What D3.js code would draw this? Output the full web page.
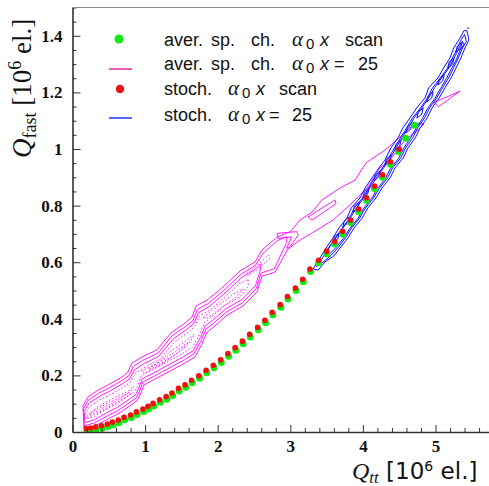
<!DOCTYPE html>
<html lang="en">
<head>
<meta charset="UTF-8">
<title>Q_fast vs Q_tt</title>
<script src="https://cdn.jsdelivr.net/npm/d3@7"></script>
<style>
  body { margin: 0; background: #fff; }
  svg { display: block; }
  .tick text { font-family: "Liberation Serif", serif; font-weight: bold; font-size: 17px; fill: #111; }
  .leg { font-family: "Liberation Sans", Arial, sans-serif; font-size: 18px; fill: #111; }
</style>
</head>
<body>
<script>
// scatter: stoch. alpha0 x scan (red)
const redX = [0.19,0.25,0.32,0.40,0.48,0.55,0.63,0.71,0.80,0.88,0.97,1.04,1.11,1.20,1.29,1.37,1.46,1.55,1.64,1.74,1.84,1.94,2.04,2.14,2.24,2.34,2.44,2.55,2.65,2.75,2.86,2.96,3.07,3.17,3.27,3.39,3.50,3.61,3.72,3.83,3.94,4.05,4.16,4.27,4.38,4.50];
const redY = [0.012,0.014,0.018,0.022,0.028,0.035,0.042,0.052,0.060,0.071,0.081,0.091,0.101,0.114,0.125,0.138,0.154,0.167,0.183,0.199,0.218,0.236,0.255,0.277,0.298,0.321,0.345,0.370,0.395,0.423,0.450,0.479,0.509,0.540,0.576,0.607,0.639,0.673,0.709,0.749,0.788,0.828,0.869,0.909,0.955,0.999];
// scatter: aver. sp. ch. alpha0 x scan (green)
const greenX = [0.20,0.26,0.33,0.41,0.49,0.56,0.64,0.72,0.81,0.89,0.98,1.05,1.12,1.21,1.30,1.38,1.47,1.56,1.65,1.75,1.85,1.95,2.05,2.15,2.25,2.35,2.45,2.56,2.66,2.76,2.87,2.97,3.08,3.18,3.28,3.39,3.50,3.61,3.72,3.83,3.94,4.05,4.16,4.27,4.38,4.49,4.59,4.71];
const greenY = [0.004,0.006,0.009,0.013,0.019,0.026,0.033,0.043,0.051,0.062,0.072,0.082,0.092,0.105,0.116,0.129,0.145,0.158,0.174,0.190,0.209,0.227,0.246,0.268,0.289,0.312,0.336,0.361,0.386,0.414,0.441,0.470,0.500,0.531,0.567,0.598,0.630,0.664,0.700,0.740,0.779,0.819,0.860,0.900,0.946,0.991,1.038,1.084];

// contours of aver. sp. ch. alpha0 x = 25 (magenta), [Qtt, Qfast]
const magentaSolid = [
  [[0.145,0.092],[0.213,0.124],[0.351,0.148],[0.489,0.166],[0.682,0.194],[0.764,0.212],[0.820,0.244],[0.957,0.265],[1.164,0.290],[1.274,0.325],[1.371,0.353],[1.550,0.385],[1.646,0.406],[1.701,0.445],[1.853,0.466],[2.059,0.509],[2.307,0.569],[2.514,0.601],[2.611,0.643],[2.817,0.689],[2.996,0.707],[3.134,0.749],[3.299,0.777],[3.437,0.820],[3.685,0.862],[3.891,0.890],[4.043,0.951],[4.304,0.996],[4.539,1.049],[4.718,1.092],[4.842,1.088],
   [4.759,1.067],[4.580,1.032],[4.373,0.961],[4.235,0.933],[4.056,0.862],[3.822,0.802],[3.588,0.749],[3.368,0.714],[3.134,0.678],[2.968,0.647],[2.790,0.565],[2.611,0.551],[2.541,0.495],[2.348,0.445],[2.128,0.413],[1.963,0.375],[1.853,0.353],[1.783,0.311],[1.687,0.265],[1.550,0.244],[1.371,0.219],[1.136,0.187],[0.985,0.166],[0.930,0.131],[0.888,0.110],[0.764,0.088],[0.627,0.064],[0.489,0.046],[0.310,0.021],[0.158,0.012]],
  [[0.15,0.082],[0.22,0.113],[0.36,0.137],[0.50,0.155],[0.69,0.183],[0.78,0.200],[0.84,0.232],[0.97,0.253],[1.18,0.279],[1.29,0.314],[1.38,0.342],[1.56,0.373],[1.66,0.394],[1.72,0.433],[1.87,0.454],[2.07,0.497],[2.32,0.557],[2.52,0.589],[2.62,0.630],[2.82,0.676],[2.95,0.690],
   [2.95,0.670],[2.78,0.577],[2.60,0.562],[2.53,0.506],[2.34,0.456],[2.12,0.424],[1.95,0.386],[1.84,0.364],[1.77,0.322],[1.67,0.276],[1.54,0.255],[1.36,0.230],[1.13,0.198],[0.97,0.177],[0.92,0.142],[0.88,0.121],[0.76,0.099],[0.62,0.075],[0.48,0.057],[0.30,0.032],[0.16,0.022]],
  [[0.16,0.072],[0.23,0.102],[0.37,0.126],[0.51,0.144],[0.70,0.172],[0.79,0.189],[0.86,0.221],[0.99,0.242],[1.19,0.268],[1.30,0.303],[1.40,0.331],[1.57,0.362],[1.67,0.383],[1.74,0.422],[1.88,0.443],[2.08,0.486],[2.33,0.546],[2.50,0.572],[2.60,0.595],
   [2.58,0.565],[2.52,0.517],[2.33,0.467],[2.11,0.435],[1.94,0.397],[1.83,0.375],[1.76,0.333],[1.66,0.287],[1.53,0.266],[1.35,0.241],[1.12,0.209],[0.96,0.188],[0.91,0.153],[0.87,0.132],[0.75,0.110],[0.61,0.086],[0.47,0.068],[0.30,0.043],[0.17,0.033]],
  [[4.979,1.166],[5.158,1.184],[5.337,1.205],[5.227,1.184],[5.039,1.149]],
  [[3.244,0.760],[3.616,0.820],[3.630,0.806],[3.299,0.749]],
  [[2.818,0.702],[3.088,0.708],[3.110,0.696],[2.996,0.655],[2.950,0.649],[3.019,0.690],[2.833,0.684]]
];
const magentaDotted = [
  [[0.17,0.062],[0.24,0.090],[0.38,0.114],[0.52,0.132],[0.71,0.160],[0.80,0.177],[0.87,0.209],[1.00,0.230],[1.20,0.256],[1.31,0.291],[1.41,0.319],[1.58,0.350],[1.68,0.371],[1.75,0.410],[1.89,0.431],[2.09,0.474],[2.30,0.525],[2.42,0.540],
   [2.42,0.515],[2.31,0.478],[2.10,0.447],[1.93,0.409],[1.82,0.387],[1.75,0.345],[1.65,0.299],[1.52,0.278],[1.34,0.253],[1.11,0.221],[0.95,0.200],[0.90,0.165],[0.86,0.144],[0.74,0.122],[0.60,0.098],[0.46,0.080],[0.30,0.055],[0.18,0.045]],
  [[0.19,0.055],[0.35,0.090],[0.55,0.118],[0.75,0.142],[0.84,0.160],[0.78,0.130],[0.58,0.100],[0.38,0.072],[0.19,0.050]],
  [[0.25,0.068],[0.45,0.097],[0.65,0.122],[0.78,0.140],[0.62,0.112],[0.42,0.085],[0.25,0.062]],
  [[0.95,0.215],[1.15,0.240],[1.35,0.285],[1.55,0.320],[1.68,0.345],[1.60,0.310],[1.40,0.270],[1.20,0.235],[1.00,0.208]],
  [[1.05,0.225],[1.25,0.255],[1.45,0.290],[1.60,0.318],[1.45,0.280],[1.25,0.247],[1.05,0.220]],
  [[1.80,0.405],[2.00,0.445],[2.20,0.485],[2.35,0.505],[2.25,0.475],[2.05,0.440],[1.85,0.400]],
  [[2.40,0.560],[2.55,0.590],[2.70,0.625],[2.72,0.615],[2.55,0.575],[2.42,0.552]]
];

// contours of stoch. alpha0 x = 25 (blue)
const blueContours = [
  [[3.313,0.576],[3.409,0.615],[3.492,0.650],[3.588,0.686],[3.670,0.721],[3.781,0.756],[3.840,0.792],[3.960,0.827],[4.030,0.862],[4.125,0.898],[4.220,0.933],[4.304,0.961],[4.385,1.004],[4.483,1.039],[4.550,1.074],[4.649,1.110],[4.740,1.145],[4.855,1.180],[4.905,1.216],[5.034,1.251],[5.110,1.286],[5.200,1.322],[5.250,1.357],[5.337,1.392],[5.392,1.418],[5.434,1.418],
   [5.460,1.385],[5.406,1.357],[5.350,1.322],[5.282,1.286],[5.215,1.251],[5.131,1.216],[5.050,1.180],[4.952,1.145],[4.885,1.110],[4.787,1.074],[4.720,1.039],[4.621,1.004],[4.555,0.968],[4.442,0.933],[4.375,0.898],[4.263,0.862],[4.180,0.827],[4.070,0.792],[3.990,0.756],[3.878,0.721],[3.795,0.686],[3.685,0.650],[3.600,0.622],[3.478,0.601],[3.382,0.572]],
  [[3.36,0.585],[3.443,0.615],[3.526,0.650],[3.622,0.686],[3.719,0.721],[3.815,0.756],[3.884,0.792],[3.994,0.827],[4.077,0.862],[4.159,0.898],[4.270,0.933],[4.338,0.961],[4.435,1.004],[4.517,1.039],[4.600,1.074],[4.683,1.110],[4.793,1.145],[4.889,1.180],[4.958,1.216],[5.068,1.251],[5.165,1.286],[5.234,1.322],[5.303,1.357],[5.350,1.385],[5.400,1.405],
   [5.425,1.380],[5.372,1.357],[5.315,1.322],[5.248,1.286],[5.180,1.251],[5.097,1.216],[5.015,1.180],[4.918,1.145],[4.850,1.110],[4.753,1.074],[4.685,1.039],[4.587,1.004],[4.520,0.968],[4.408,0.933],[4.340,0.898],[4.229,0.862],[4.145,0.827],[4.036,0.792],[3.955,0.756],[3.844,0.721],[3.760,0.686],[3.651,0.650],[3.565,0.625],[3.450,0.600]],
  [[3.48,0.630],[3.56,0.660],[3.65,0.695],[3.745,0.728],[3.84,0.762],[3.92,0.795],[4.02,0.830],[4.10,0.865],[4.19,0.900],[4.29,0.935],[4.37,0.965],[4.46,1.005],[4.54,1.040],[4.63,1.076],[4.71,1.112],[4.82,1.148],[4.91,1.182],[4.99,1.218],[5.09,1.253],[5.19,1.288],[5.26,1.324],[5.33,1.360],[5.37,1.380],
   [5.39,1.368],[5.34,1.350],[5.29,1.318],[5.22,1.284],[5.15,1.249],[5.07,1.214],[4.99,1.178],[4.89,1.143],[4.82,1.108],[4.73,1.072],[4.65,1.037],[4.56,1.002],[4.49,0.966],[4.38,0.931],[4.31,0.896],[4.20,0.860],[4.12,0.825],[4.01,0.790],[3.93,0.754],[3.82,0.719],[3.73,0.684],[3.63,0.652],[3.53,0.626]],
  [[3.586,0.668],[3.653,0.682],[3.674,0.704],[3.607,0.690]],
  [[3.723,0.724],[3.790,0.738],[3.811,0.760],[3.744,0.746]],
  [[3.861,0.777],[3.928,0.791],[3.949,0.813],[3.882,0.799]],
  [[3.999,0.827],[4.066,0.841],[4.087,0.863],[4.020,0.849]],
  [[4.151,0.887],[4.218,0.901],[4.239,0.923],[4.172,0.909]],
  [[4.302,0.943],[4.369,0.957],[4.390,0.979],[4.323,0.965]],
  [[4.439,0.996],[4.506,1.010],[4.527,1.032],[4.460,1.018]],
  [[4.591,1.056],[4.658,1.070],[4.679,1.092],[4.612,1.078]],
  [[4.743,1.109],[4.810,1.123],[4.831,1.145],[4.764,1.131]],
  [[4.880,1.166],[4.947,1.180],[4.968,1.202],[4.901,1.188]],
  [[5.032,1.226],[5.099,1.240],[5.120,1.262],[5.053,1.248]],
  [[5.169,1.286],[5.236,1.300],[5.257,1.322],[5.190,1.308]],
  [[5.280,1.342],[5.347,1.356],[5.368,1.378],[5.301,1.364]]
];
const blueDot = [5.448, 1.427];

const xTicks = [0, 1, 2, 3, 4, 5];
const yTicks = [0, 0.2, 0.4, 0.6, 0.8, 1, 1.2, 1.4];

const w = 489, h = 486;
const padLeft = 72.5, padBottom = 432, padTop = 7.5;

const x = d3.scaleLinear().domain([0, 5.8]).range([padLeft, padLeft + 5.8 * 72.6]);
const y = d3.scaleLinear().domain([0, 1.5]).range([padBottom, padTop]);

const svg = d3.select("body").append("svg")
  .attr("width", w).attr("height", h);

svg.append("rect").attr("width", w).attr("height", h).attr("fill", "#fff");

svg.append("clipPath").attr("id", "plotclip")
  .append("rect").attr("x", padLeft).attr("y", padTop)
  .attr("width", w - padLeft).attr("height", padBottom - padTop);

const plot = svg.append("g").attr("clip-path", "url(#plotclip)");

const line = d3.line().x(d => x(d[0])).y(d => y(d[1]));

// magenta contours
plot.selectAll(".msolid").data(magentaSolid).enter().append("path")
  .attr("class", "msolid")
  .attr("d", d => line(d) + "Z")
  .attr("fill", "none").attr("stroke", "#ff1cff").attr("stroke-width", 1);

plot.selectAll(".mdot").data(magentaDotted).enter().append("path")
  .attr("class", "mdot")
  .attr("d", d => line(d) + "Z")
  .attr("fill", "none").attr("stroke", "#ff1cff").attr("stroke-width", 1)
  .attr("stroke-dasharray", "1.5,2");

// blue contours
plot.selectAll(".blue").data(blueContours).enter().append("path")
  .attr("class", "blue")
  .attr("d", d => line(d) + "Z")
  .attr("fill", "none").attr("stroke", "#1010ff").attr("stroke-width", 1);

plot.append("circle").attr("cx", x(blueDot[0])).attr("cy", y(blueDot[1]))
  .attr("r", 0.8).attr("fill", "#1010ff");

// scatter points
plot.selectAll(".green").data(greenX).enter().append("circle")
  .attr("class", "green")
  .attr("cx", d => x(d)).attr("cy", (d, i) => y(greenY[i]))
  .attr("r", 3.5).attr("fill", "#12ea12");

plot.selectAll(".red").data(redX).enter().append("circle")
  .attr("class", "red")
  .attr("cx", d => x(d)).attr("cy", (d, i) => y(redY[i]))
  .attr("r", 2.8).attr("fill", "#f01010");

// axes
const fmt = d3.format("~g");
const xMinor = d3.range(0, 5.81, 0.2).filter(v => Math.abs(v - Math.round(v)) > 1e-6);
const yMinor = d3.range(0, 1.501, 0.05).filter(v => Math.abs(v * 5 - Math.round(v * 5)) > 1e-6);

svg.append("g").attr("transform", "translate(0," + padBottom + ")")
  .call(d3.axisBottom(x).tickValues(xMinor).tickSize(-4).tickSizeOuter(0).tickFormat(""))
  .call(g => g.select(".domain").remove())
  .call(g => g.selectAll("line").attr("stroke", "#333"));

svg.append("g").attr("id", "x-axis").attr("transform", "translate(0," + padBottom + ")")
  .call(d3.axisBottom(x).tickValues(xTicks).tickSize(-7).tickSizeOuter(0).tickPadding(8).tickFormat(fmt))
  .call(g => g.select(".domain").attr("stroke", "#333").attr("stroke-width", 1.6))
  .call(g => g.selectAll("line").attr("stroke", "#333"));

svg.append("g").attr("transform", "translate(" + padLeft + ",0)")
  .call(d3.axisLeft(y).tickValues(yMinor).tickSize(-4).tickSizeOuter(0).tickFormat(""))
  .call(g => g.select(".domain").remove())
  .call(g => g.selectAll("line").attr("stroke", "#333"));

svg.append("g").attr("id", "y-axis").attr("transform", "translate(" + padLeft + ",0)")
  .call(d3.axisLeft(y).tickValues(yTicks).tickSize(-8).tickSizeOuter(0).tickPadding(10).tickFormat(fmt))
  .call(g => g.select(".domain").attr("stroke", "#333").attr("stroke-width", 1.6))
  .call(g => g.selectAll("line").attr("stroke", "#333"));

// top frame line
svg.append("line").attr("x1", padLeft).attr("x2", w).attr("y1", padTop).attr("y2", padTop)
  .attr("stroke", "#888").attr("stroke-width", 1.2);

// axis titles
const xt = svg.append("text").attr("x", 352).attr("y", 479)
  .attr("font-size", 24).attr("fill", "#111");
xt.append("tspan").attr("font-family", "Liberation Serif, serif").attr("font-style", "italic").text("Q");
xt.append("tspan").attr("font-family", "Liberation Serif, serif").attr("font-style", "italic")
  .attr("font-size", 17).attr("dy", 4).text("tt");
xt.append("tspan").attr("font-family", "DejaVu Sans, sans-serif").attr("font-size", 23)
  .attr("dy", -4).text("\u00a0[10");
xt.append("tspan").attr("font-family", "DejaVu Sans, sans-serif").attr("font-size", 14)
  .attr("dy", -8).text("6");
xt.append("tspan").attr("font-family", "DejaVu Sans, sans-serif").attr("font-size", 23)
  .attr("dy", 8).text("\u00a0el.]");

const yt = svg.append("text").attr("transform", "translate(31,158) rotate(-90)")
  .attr("font-family", "Liberation Serif, serif").attr("font-size", 27).attr("fill", "#111");
yt.append("tspan").attr("font-style", "italic").text("Q");
yt.append("tspan").attr("font-size", 18).attr("dy", 5).text("fast");
yt.append("tspan").attr("dy", -5).text("\u00a0[10");
yt.append("tspan").attr("font-size", 18).attr("dy", -10).text("6");
yt.append("tspan").attr("dy", 10).text("\u00a0el.]");

// legend
const legend = svg.append("g");
legend.append("circle").attr("cx", 119).attr("cy", 39).attr("r", 4.5).attr("fill", "#12ea12");
legend.append("line").attr("x1", 109).attr("x2", 132).attr("y1", 69).attr("y2", 69)
  .attr("stroke", "#e8259e").attr("stroke-width", 1.5);
legend.append("circle").attr("cx", 120).attr("cy", 89).attr("r", 4.2).attr("fill", "#f01010");
legend.append("line").attr("x1", 109).attr("x2", 132).attr("y1", 118).attr("y2", 118)
  .attr("stroke", "#2030ee").attr("stroke-width", 1.5);

const legRows = [
  { base: 46, words: [[164, "aver."], [211, "sp."], [251, "ch."]], a: 292, x: 320, tail: [[345, "scan"]] },
  { base: 70, words: [[164, "aver."], [211, "sp."], [251, "ch."]], a: 292, x: 320, tail: [[334, "="], [358, "25"]] },
  { base: 95, words: [[164, "stoch."]], a: 228, x: 256, tail: [[279, "scan"]] },
  { base: 121, words: [[164, "stoch."]], a: 228, x: 256, tail: [[269, "="], [292, "25"]] }
];
legRows.forEach(r => {
  const t = legend.append("text").attr("class", "leg").attr("y", r.base);
  r.words.forEach(wd => t.append("tspan").attr("x", wd[0]).text(wd[1]));
  t.append("tspan").attr("x", r.a).attr("font-family", "Liberation Serif, serif")
    .attr("font-style", "italic").attr("font-size", 21).text("\u03b1");
  t.append("tspan").attr("x", r.a + 14).attr("dy", 3).attr("font-size", 15).text("0");
  t.append("tspan").attr("x", r.x).attr("dy", -3).attr("font-style", "italic").text("x");
  r.tail.forEach(wd => t.append("tspan").attr("x", wd[0]).text(wd[1]));
});
</script>
</body>
</html>
